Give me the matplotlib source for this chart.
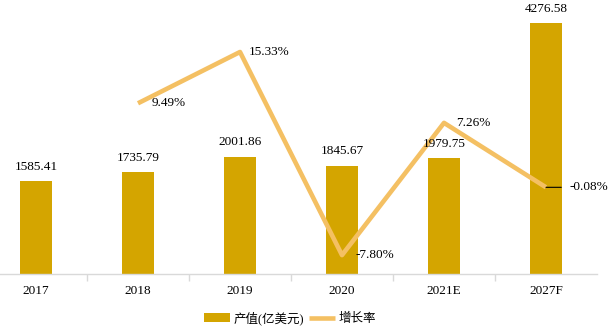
import matplotlib.pyplot as plt
from matplotlib.ticker import FixedLocator

plt.rcParams['font.family'] = ['Liberation Serif', 'Noto Sans CJK SC']

years = ['2017', '2018', '2019', '2020', '2021E', '2027F']
output = [1585.41, 1735.79, 2001.86, 1845.67, 1979.75, 4276.58]
growth_years = ['2018', '2019', '2020', '2021E', '2027F']
growth = [9.49, 15.33, -7.80, 7.26, -0.08]

bar_color = '#D4A500'
line_color = '#F4C063'

fig = plt.figure(figsize=(6.08, 3.30), dpi=100)
ax = fig.add_axes([-15 / 608, 56 / 330, 612 / 608, 274 / 330])
ax2 = ax.twinx()

x = list(range(len(years)))
ax.bar(x, output, width=0.32, color=bar_color, zorder=2, label='产值(亿美元)')

gx = [years.index(y) for y in growth_years]
ax2.plot(gx, growth, color=line_color, linewidth=3.3, solid_capstyle='butt',
         zorder=3, label='增长率')

# bar values, drawn on ax2 so they sit above the line
for i, v in enumerate(output):
    ax2.annotate(f'{v:.2f}', (i, v), xycoords=ax.transData, xytext=(0, 6),
                 textcoords='offset points', ha='center', va='bottom',
                 fontsize=9.5, zorder=5)

# growth labels, right of the points
offs = {0: (10, 0), 1: (6.5, 0), 2: (10, 0), 3: (9, 0)}
for k, (i, g) in enumerate(zip(gx, growth)):
    if k == 4:
        ax2.annotate(f'{g:.2f}%', (i, g), xytext=(17, 0), textcoords='offset points',
                     ha='left', va='center', fontsize=9.5,
                     arrowprops=dict(arrowstyle='-', color='black', lw=0.8,
                                     shrinkA=4, shrinkB=0, relpos=(0, 0.5)))
    else:
        dx, dy = offs[k]
        ax2.annotate(f'{g:.2f}%', (i, g), xytext=(dx, dy), textcoords='offset points',
                     ha='left', va='center', fontsize=9.5)

ax.set_xlim(-0.5, 5.5)
ax.set_ylim(0, 4670)
ax2.set_ylim(-9.95, 21.25)

ax.set_xticks(x)
ax.set_xticklabels(years, fontsize=9.5)
ax.xaxis.set_minor_locator(FixedLocator([0.5, 1.5, 2.5, 3.5, 4.5]))
ax.tick_params(axis='x', which='major', length=0, pad=8)
ax.tick_params(axis='x', which='minor', length=5, color='#D9D9D9', width=1)
ax.set_yticks([])
ax2.set_yticks([])
for s in ['top', 'left', 'right']:
    ax.spines[s].set_visible(False)
    ax2.spines[s].set_visible(False)
ax2.spines['bottom'].set_visible(False)
ax.spines['bottom'].set_color('#D9D9D9')
ax.spines['bottom'].set_linewidth(1)

h1, l1 = ax.get_legend_handles_labels()
h2, l2 = ax2.get_legend_handles_labels()
fig.legend(h1 + h2, l1 + l2, loc='center', bbox_to_anchor=(290 / 608, 12 / 330),
           ncol=2, frameon=False, fontsize=9, handlelength=2.1, handletextpad=0.3,
           columnspacing=0.4)

fig.savefig('out.png', dpi=100)
